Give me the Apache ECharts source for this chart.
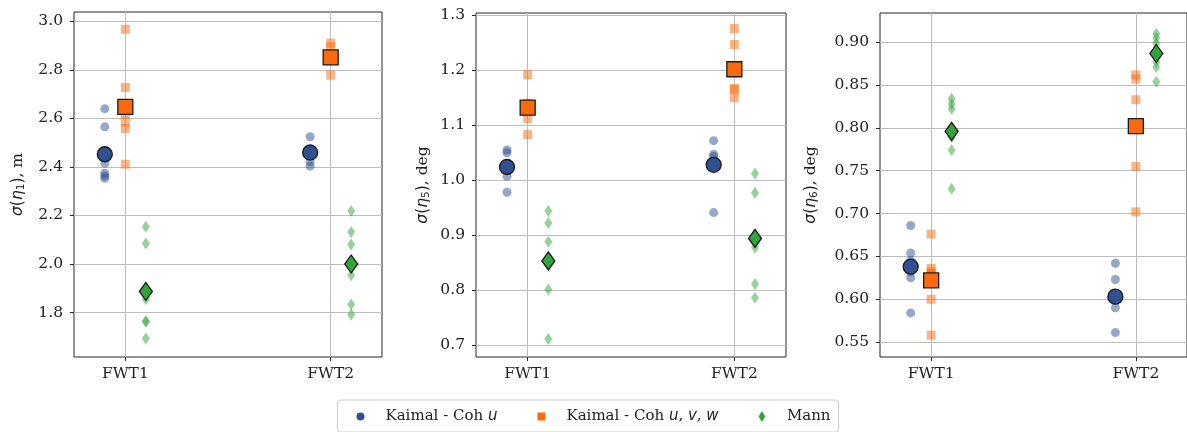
<!DOCTYPE html>
<html>
<head>
<meta charset="utf-8">
<script src="https://cdn.jsdelivr.net/npm/echarts@6/dist/echarts.min.js"></script>
<style>
html,body{margin:0;padding:0;background:#fff;}
#chart{width:1187px;height:432px;}
</style>
</head>
<body>
<div id="chart"></div>
<script>
// ---- data ----
const categories = ['FWT1', 'FWT2'];
const methods = ['Kaimal - Coh u', 'Kaimal - Coh u, v, w', 'Mann'];

// sigma(eta1), m : seeds per turbine [FWT1, FWT2] and means
const eta1KaimalU    = [[2.640, 2.565, 2.415, 2.374, 2.363, 2.353], [2.524, 2.476, 2.468, 2.460, 2.421, 2.403]];
const eta1KaimalUVW  = [[2.967, 2.727, 2.620, 2.585, 2.558, 2.411], [2.910, 2.895, 2.855, 2.850, 2.840, 2.778]];
const eta1Mann       = [[2.153, 2.084, 1.855, 1.765, 1.762, 1.693], [2.218, 2.132, 2.080, 1.954, 1.833, 1.792]];
const eta1KaimalUMean   = [2.452, 2.459];
const eta1KaimalUVWMean = [2.647, 2.851];
const eta1MannMean      = [1.887, 2.000];

// sigma(eta5), deg
const eta5KaimalU    = [[1.055, 1.050, 1.030, 1.020, 1.007, 0.978], [1.072, 1.047, 1.043, 1.030, 1.030, 0.941]];
const eta5KaimalUVW  = [[1.192, 1.140, 1.130, 1.125, 1.112, 1.083], [1.276, 1.247, 1.203, 1.167, 1.165, 1.150]];
const eta5Mann       = [[0.944, 0.922, 0.888, 0.845, 0.801, 0.711], [1.012, 0.977, 0.901, 0.877, 0.811, 0.786]];
const eta5KaimalUMean   = [1.024, 1.028];
const eta5KaimalUVWMean = [1.132, 1.202];
const eta5MannMean      = [0.853, 0.894];

// sigma(eta6), deg
const eta6KaimalU    = [[0.686, 0.654, 0.645, 0.632, 0.625, 0.584], [0.642, 0.623, 0.605, 0.600, 0.590, 0.561]];
const eta6KaimalUVW  = [[0.676, 0.636, 0.632, 0.630, 0.600, 0.558], [0.862, 0.857, 0.833, 0.803, 0.755, 0.702]];
const eta6Mann       = [[0.834, 0.828, 0.822, 0.789, 0.774, 0.729], [0.910, 0.905, 0.899, 0.877, 0.871, 0.854]];
const eta6KaimalUMean   = [0.638, 0.603];
const eta6KaimalUVWMean = [0.622, 0.802];
const eta6MannMean      = [0.796, 0.887];

// tick labels
const eta1Ticks = [1.8, 2.0, 2.2, 2.4, 2.6, 2.8, 3.0];
const eta5Ticks = [0.7, 0.8, 0.9, 1.0, 1.1, 1.2, 1.3];
const eta6Ticks = [0.55, 0.60, 0.65, 0.70, 0.75, 0.80, 0.85, 0.90];

// ---- styling / layout ----
const colors = ['#30508f', '#fb6a0c', '#33a33b'];
const symbols = ['circle', 'rect', 'diamond'];
const faintSize = [9, 9, [8, 12]];
const meanSize = [15, 15, [13, 18]];
const offsets = [-0.1, 0, 0.1];
const serif = 'DejaVu Serif';
const sans = 'DejaVu Sans';

const panels = [
  { seeds: [eta1KaimalU, eta1KaimalUVW, eta1Mann], means: [eta1KaimalUMean, eta1KaimalUVWMean, eta1MannMean],
    ticks: eta1Ticks, dec: 1, min: 1.617, max: 3.038, sub: '1', unit: ', m',
    grid: { left: 74, top: 12, width: 308, height: 345 }, nameGap: 47 },
  { seeds: [eta5KaimalU, eta5KaimalUVW, eta5Mann], means: [eta5KaimalUMean, eta5KaimalUVWMean, eta5MannMean],
    ticks: eta5Ticks, dec: 1, min: 0.678, max: 1.3044, sub: '5', unit: ', deg',
    grid: { left: 476, top: 13, width: 310, height: 344 }, nameGap: 44 },
  { seeds: [eta6KaimalU, eta6KaimalUVW, eta6Mann], means: [eta6KaimalUMean, eta6KaimalUVWMean, eta6MannMean],
    ticks: eta6Ticks, dec: 2, min: 0.5325, max: 0.9342, sub: '6', unit: ', deg',
    grid: { left: 880, top: 13, width: 310, height: 344 }, nameGap: 60 }
];

const grids = [], xAxes = [], yAxes = [], series = [];
panels.forEach((p, pi) => {
  grids.push(Object.assign({ show: true, borderColor: '#262626', borderWidth: 1, backgroundColor: 'transparent' }, p.grid));
  xAxes.push({
    type: 'value', gridIndex: pi, min: -0.25, max: 1.25,
    axisLine: { show: false, onZero: false },
    axisTick: { show: true, inside: false, length: 4, customValues: [0, 1], lineStyle: { color: '#262626' } },
    axisLabel: { customValues: [0, 1], margin: 9, formatter: v => categories[Math.round(v)],
      fontFamily: serif, fontSize: 15.5, color: '#222' },
    splitLine: { show: true, lineStyle: { color: '#bdbdbd', width: 1 } }
  });
  yAxes.push({
    type: 'value', gridIndex: pi, min: p.min, max: p.max,
    axisLine: { show: false, onZero: false },
    axisTick: { show: true, inside: false, length: 4, customValues: p.ticks, lineStyle: { color: '#262626' } },
    axisLabel: { customValues: p.ticks, margin: 11, formatter: v => v.toFixed(p.dec),
      fontFamily: serif, fontSize: 15.5, color: '#222' },
    splitLine: { show: true, lineStyle: { color: '#bdbdbd', width: 1 } },
    name: '{s|σ}{p|(}{s|η}{b|' + p.sub + '}{p|)}{u|' + p.unit + '}',
    nameLocation: 'middle', nameRotate: 90, nameGap: p.nameGap,
    nameTextStyle: {
      fontFamily: serif, fontSize: 15, color: '#222',
      rich: {
        s: { fontFamily: sans, fontStyle: 'italic', fontSize: 15.5, color: '#222' },
        p: { fontFamily: sans, fontSize: 15.5, color: '#222' },
        b: { fontFamily: sans, fontSize: 10.5, color: '#222', verticalAlign: 'bottom', lineHeight: 18 },
        u: { fontFamily: serif, fontSize: 15.5, color: '#222' }
      }
    }
  });
  // faint seed points
  methods.forEach((m, mi) => {
    const pts = [];
    p.seeds[mi].forEach((vals, ci) => vals.forEach(v => pts.push([ci + offsets[mi], v])));
    series.push({
      type: 'scatter', name: m + ' seeds', xAxisIndex: pi, yAxisIndex: pi,
      symbol: symbols[mi], symbolSize: faintSize[mi], data: pts, z: 2,
      itemStyle: { color: colors[mi], opacity: 0.5 }, silent: true, animation: false
    });
  });
  // means
  methods.forEach((m, mi) => {
    const pts = p.means[mi].map((v, ci) => [ci + offsets[mi], v]);
    series.push({
      type: 'scatter', name: m, xAxisIndex: pi, yAxisIndex: pi,
      symbol: symbols[mi], symbolSize: meanSize[mi], data: pts, z: 3,
      itemStyle: { color: colors[mi], opacity: 1, borderColor: '#1a1a1a', borderWidth: 1.3 },
      silent: true, animation: false
    });
  });
});

const legendRich = {
  t: { fontFamily: serif, fontSize: 15, color: '#222' },
  i: { fontFamily: sans, fontStyle: 'italic', fontSize: 15, color: '#222' }
};

const chart = echarts.init(document.getElementById('chart'), null, { renderer: 'canvas' });
chart.setOption({
  animation: false,
  backgroundColor: '#fff',
  grid: grids, xAxis: xAxes, yAxis: yAxes, series: series,
  legend: {
    left: 'center', top: 400,
    data: [
      { name: methods[0], icon: 'circle' },
      { name: methods[1], icon: 'path://M0,0L10,0L10,10L0,10Z' },
      { name: methods[2], icon: 'path://M0,-6L3.6,0L0,6L-3.6,0Z' }
    ],
    itemWidth: 8, itemHeight: 11, itemGap: 40,
    padding: [9, 8, 8, 19],
    borderColor: '#cccccc', borderWidth: 1, borderRadius: 3,
    itemStyle: { borderWidth: 0 },
    textStyle: { fontFamily: serif, fontSize: 15, color: '#222', padding: [0, 0, 0, 16], rich: legendRich },
    formatter: function (name) {
      if (name === methods[0]) return '{t|Kaimal - Coh }{i|u}';
      if (name === methods[1]) return '{t|Kaimal - Coh }{i|u}{t|, }{i|v}{t|, }{i|w}';
      return '{t|Mann}';
    }
  }
});
</script>
</body>
</html>
